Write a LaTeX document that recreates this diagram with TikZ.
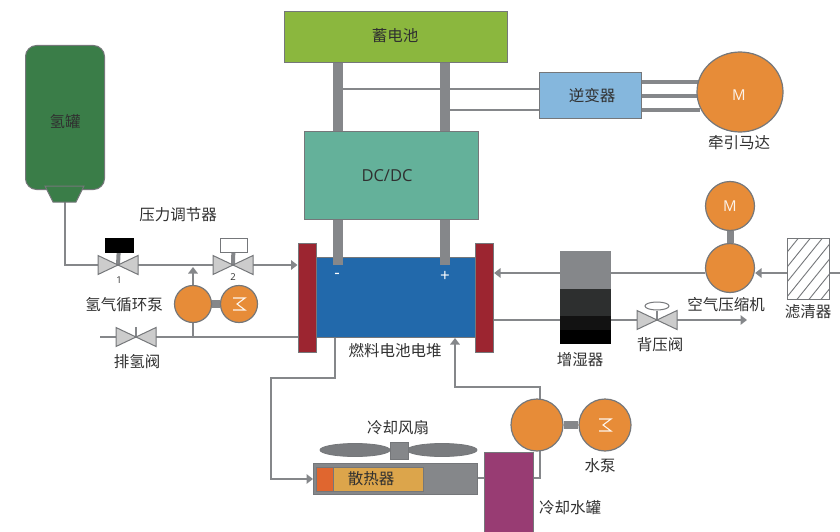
\documentclass[tikz,border=0pt]{standalone}
\usepackage{fontspec}
\setmainfont{Noto Sans CJK SC}
\setsansfont{Open Sans}
\newfontfamily\latinf{Open Sans}
\usetikzlibrary{arrows.meta,backgrounds,calc,shapes.geometric}
\definecolor{ln}{HTML}{85878A}
\definecolor{edgeg}{HTML}{75777A}
\definecolor{orng}{HTML}{E78C38}
\definecolor{txt}{HTML}{303030}
\definecolor{redb}{HTML}{9C2530}
\definecolor{blu}{HTML}{2269AB}
\definecolor{tankg}{HTML}{3A7D48}
\tikzset{
 x=1pt,y=-1pt,
 lbl/.style={text=txt,font=\fontsize{15.5}{16}\selectfont,inner sep=0pt},
 box/.style={draw=edgeg,line width=1.1pt,inner sep=0pt,minimum width=#1},
 pipe/.style={draw=ln,line width=2.9pt},
 bus/.style={draw=ln,line width=9.5pt},
 flow/.style={pipe,-{Triangle[length=6.5pt,width=9.5pt]}},
 round mach/.style={circle,draw=edgeg,line width=1.2pt,fill=orng,inner sep=0pt,minimum size=#1,text=white!90!orng,font=\latinf\fontsize{15}{15}\selectfont},
 wing/.style={draw=edgeg,line width=1pt,fill=black!20},
}
\newcommand{\valve}[2]{% centre x,y
 \draw[wing] (#1,#2) -- ++(-20,-9.5) -- ++(0,19) -- cycle;
 \draw[wing] (#1,#2) -- ++(20,-9.5) -- ++(0,19) -- cycle;
}
\newcommand{\mzig}[2]{% zigzag M in motor
 \draw[white!90!orng,line width=1.1pt] (#1-6,#2-6) -- (#1+6,#2-6) -- (#1-2,#2) -- (#1+6,#2+6) -- (#1-6,#2+6);
}
\begin{document}
\begin{tikzpicture}
\useasboundingbox (0,0) rectangle (840,532);

% top electrics
\node[box=223pt,minimum height=51pt,fill={rgb,255:red,139;green,183;blue,62},anchor=north west] (bat) at (284,11) {};
\node[lbl] (batl) at (395,36) {蓄电池};
\node[box=174pt,minimum height=88pt,fill={rgb,255:red,100;green,177;blue,154},anchor=north west] (dc) at (304,131) {};
\node[text=txt,inner sep=0pt,font=\latinf\fontsize{16.5}{17}\selectfont] (dcl) at (387,176) {DC/DC};
\node[box=102pt,minimum height=46pt,fill={rgb,255:red,133;green,183;blue,221},anchor=north west] (inv) at (539,72) {};
\node[lbl] (invl) at (592,96) {逆变器};
\node[ellipse,draw=edgeg,line width=1.2pt,fill=orng,inner sep=0pt,minimum width=86pt,minimum height=80pt] (mot) at (740,92) {};
\node[text=white!90!orng,inner sep=0pt,font=\latinf\fontsize{15}{15}\selectfont] (motm) at (739,95) {M};
\node[lbl] (motl) at (739,143) {牵引马达};

% stack
\node[draw=edgeg,line width=.8pt,fill=blu,minimum width=160pt,minimum height=80pt,inner sep=0pt,anchor=north west] (stack) at (315,257) {};
\node[box=18pt,minimum height=109pt,fill=redb,anchor=north west] (rl) at (297.5,243) {};
\node[box=18pt,minimum height=109pt,fill=redb,anchor=north west] (rr) at (475,243) {};
\node[lbl] (stackl) at (395,351) {燃料电池电堆};
\draw[bus] (dc.south -| 338,0) -- (338,265);
\draw[bus] (dc.south -| 445,0) -- (445,265);
\node[text=white,inner sep=0pt,font=\latinf\fontsize{17}{17}\selectfont] (minus) at (337,276) {-};
\node[text=white,inner sep=0pt,font=\latinf\fontsize{17}{17}\selectfont] (plus) at (445,276) {+};

% air side
\node[round mach=49pt] (am) at (730,206) {M};
\node[round mach=49pt] (ac) at (730,268) {};
\node[lbl] at (726,305) (acl) {空气压缩机};
\node[draw=edgeg,line width=1pt,fill=white,minimum width=42pt,minimum height=61pt,inner sep=0pt,anchor=north west,
  path picture={\foreach \k in {-72,-60,...,36}{\draw[edgeg,line width=.9pt] ({\k*1pt},-31pt) -- ({(\k+50)*1pt},31pt);}}] (flt) at (787,238) {};
\node[lbl] (fltl) at (808,312) {滤清器};
\coordinate (airin) at (840,273);
% humidifier
\node[fill=ln,minimum width=51pt,minimum height=38pt,inner sep=0pt,anchor=north west] (h1) at (560,251) {};
\node[fill={rgb,255:red,45;green,47;blue,47},minimum width=51pt,minimum height=27pt,inner sep=0pt,anchor=north west] (h2) at (560,289) {};
\node[fill={rgb,255:red,18;green,18;blue,18},minimum width=51pt,minimum height=14pt,inner sep=0pt,anchor=north west] (h3) at (560,316) {};
\node[fill=black,minimum width=51pt,minimum height=14pt,inner sep=0pt,anchor=north west] (h4) at (560,330) {};
\node[lbl] (hl) at (580,360) {增湿器};
\coordinate (bpv) at (657,320);
\coordinate (airout) at (747,320);
\node[lbl] (bpl) at (660,345) {背压阀};
\node[ellipse,draw=edgeg,line width=1pt,fill=white,minimum width=24pt,minimum height=8pt,inner sep=0pt] (bph) at (657,306) {};

% hydrogen
\node[draw=edgeg,line width=1pt,fill=tankg,rounded corners=11pt,minimum width=79pt,minimum height=144pt,inner sep=0pt,anchor=north west] (tank) at (25,45) {};
\node[lbl] (tankl) at (65,122) {氢罐};
\draw[draw=edgeg,line width=1pt,fill=tankg] (45,186) -- (84,186) -- (76,202) -- (53,202) -- cycle;
\coordinate (tankout) at (65,202);
\coordinate (v1) at (118,265);
\coordinate (v2) at (233,265);
\coordinate (v3) at (136,337);
\node[draw=black,fill=black,minimum width=28pt,minimum height=14pt,inner sep=0pt] (a1) at (119,245) {};
\node[draw=edgeg,line width=1pt,fill=white,minimum width=27pt,minimum height=14pt,inner sep=0pt] (a2) at (233.5,245) {};
\node[text=txt,inner sep=0pt,font=\latinf\fontsize{9.5}{10}\selectfont] (n1) at (119,280) {1};
\node[text=txt,inner sep=0pt,font=\latinf\fontsize{9.5}{10}\selectfont] (n2) at (233,277) {2};
\node[lbl] (prl) at (178,215) {压力调节器};
\node[lbl] (cpl) at (124,305) {氢气循环泵};
\node[lbl] (ventl) at (137,362) {排氢阀};
\node[round mach=37pt] (hp) at (193,304) {};
\node[round mach=37pt] (hm) at (239,304) {};
\mzig{239}{304}
\coordinate (hin) at (193,267);
\coordinate (hbot) at (193,337);
\coordinate (vent) at (100,337);

% cooling
\node[fill=ln,draw=edgeg,line width=.8pt,minimum width=164pt,minimum height=31pt,inner sep=0pt,anchor=north west] (rad) at (313,463) {};
\node[fill={rgb,255:red,224;green,102;blue,47},draw=edgeg,line width=.8pt,minimum width=17pt,minimum height=24pt,inner sep=0pt,anchor=north west] (rad1) at (316,467) {};
\node[fill={rgb,255:red,220;green,165;blue,75},draw=edgeg,line width=.8pt,minimum width=90pt,minimum height=24pt,inner sep=0pt,anchor=north west] (rad2) at (333,467) {};
\node[lbl] (radl) at (371,479) {散热器};
\node[fill={rgb,255:red,152;green,60;blue,115},draw=edgeg,line width=.8pt,minimum width=49pt,minimum height=90pt,inner sep=0pt,anchor=north west] (wt) at (484,452) {};
\node[lbl] (wtl) at (570,508) {冷却水罐};
\node[round mach=52pt] (wp) at (537,425) {};
\node[round mach=52pt] (wm) at (605,425) {};
\mzig{605}{425}
\node[lbl] (wml) at (600,466) {水泵};
\node[lbl] (fanl) at (398,428) {冷却风扇};
\node[ellipse,draw=edgeg,line width=.8pt,fill=ln!92!black,minimum width=70pt,minimum height=13pt,inner sep=0pt] (b1) at (355,450) {};
\node[ellipse,draw=edgeg,line width=.8pt,fill=ln!92!black,minimum width=70pt,minimum height=13pt,inner sep=0pt] (b2) at (442,450) {};
\node[draw=edgeg,line width=.8pt,fill=ln,minimum width=18pt,minimum height=17pt,inner sep=0pt] (hub) at (399,450.5) {};

\begin{scope}[on background layer]
 % electric buses
 \draw[bus] (bat.south -| 338,0) -- (dc.north -| 338,0);
 \draw[bus] (bat.south -| 445,0) -- (dc.north -| 445,0);
 \draw[pipe] (338,89) -- (inv.west |- 0,89);
 \draw[pipe] (445,110) -- (inv.west |- 0,110);
 \draw[draw=ln,line width=3.8pt] (inv.east |- 0,82) -- (700,82);
 \draw[draw=ln,line width=3.8pt] (inv.east |- 0,96) -- (700,96);
 \draw[draw=ln,line width=3.2pt] (inv.east |- 0,110) -- (700,110);
 % air
 \draw[draw=ln,line width=7pt] (am) -- (ac);
 \draw[pipe] (airin) -- (flt.east |- airin);
 \draw[flow] (flt.west |- airin) -- (ac.east |- airin);
 \draw[pipe] (ac.west |- airin) -- (h1.east |- airin);
 \draw[flow] (h1.west |- airin) -- (rr.east |- airin);
 \draw[pipe] (rr.east |- bpv) -- (h3.west |- bpv);
 \draw[flow] (h3.east |- bpv) -- (airout);
 \draw[draw=ln,line width=2pt] (bph) -- (bpv);
 % hydrogen
 \draw[pipe] (tankout) |- (v1);
 \draw[pipe] (v1) -- (v2);
 \draw[flow] (v2) -- (rl.west |- v2);
 \draw[flow] (hp) -- (hin);
 \draw[pipe] (hp) -- (hbot);
 \draw[pipe] (vent) -- (rl.west |- vent);
 \draw[draw=ln,line width=8pt] (hp) -- (hm);
 \draw[draw=ln,line width=4pt] (a1) -- (v1);
 \draw[draw=ln,line width=4pt] (a2) -- (v2);
 \draw[draw=ln,line width=2pt] (v3) -- ++(0,-10);
 % cooling
 \draw[flow] (335,337) -- (335,378) -- (271,378) -- (271,479) -- (rad.west |- 0,479);
 \draw[draw=ln,line width=8pt] (wp) -- (wm);
 \draw[pipe] (rad.east |- 0,478) -- (wt.west |- 0,478);
 \draw[pipe] (wt.east |- 0,478) -- (540,478) -- (540,440);
 \draw[flow] (540,410) -- (540,387) -- (455,387) -- (455,338);
\end{scope}
\valve{118}{265}
\valve{233}{265}
\valve{136}{337}
\valve{657}{320}
\end{tikzpicture}
\end{document}
